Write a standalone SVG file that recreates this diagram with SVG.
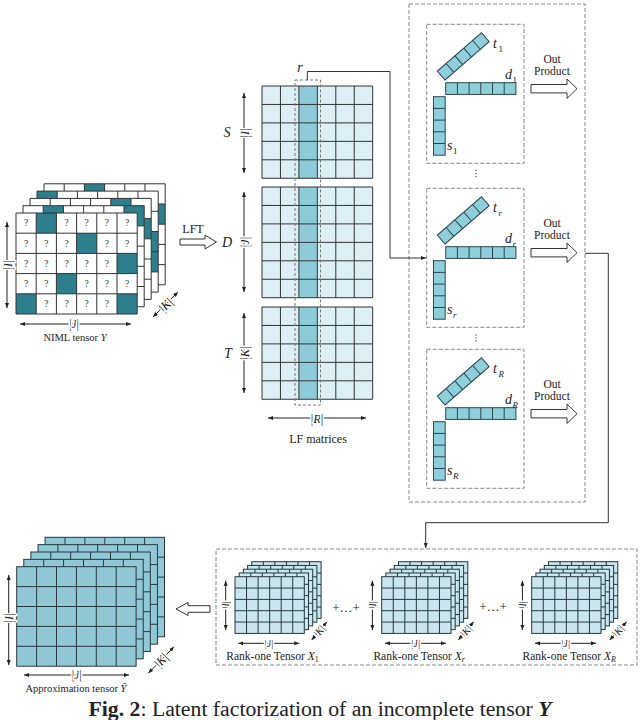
<svg xmlns="http://www.w3.org/2000/svg" xmlns:xlink="http://www.w3.org/1999/xlink" width="640" height="720" viewBox="0 0 640 720">
<style>
text{font-family:"Liberation Serif","Times New Roman",serif;fill:#222}
.it{font-style:italic}
.q{font-size:9.5px;text-anchor:middle;fill:#333}
.dim{font-size:12.5px;text-anchor:middle;stroke:#fff;stroke-width:3px;paint-order:stroke;stroke-linejoin:round}
.dimh{font-size:11.5px;text-anchor:middle;stroke:#fff;stroke-width:3px;paint-order:stroke;stroke-linejoin:round}
.dims{font-size:10.5px;text-anchor:middle;stroke:#fff;stroke-width:3px;paint-order:stroke;stroke-linejoin:round}
.dl{stroke:#222;stroke-width:1;fill:none;marker-start:url(#ah);marker-end:url(#ah)}
.grid{fill:none;stroke:#333;stroke-width:1}
.teal{fill:#2E7F8E}
.vec{fill:#8FCFDC;stroke:#2b4650;stroke-width:1}
.dash{fill:none;stroke:#888;stroke-width:1;stroke-dasharray:4 2}
.hollow{fill:#fff;stroke:#333;stroke-width:1}
.conn{fill:none;stroke:#333;stroke-width:1}
.lfl{fill:#DCEFF5}
.lfd{fill:#8DCBD8}
.appr{fill:#90C9D5;stroke:#26383e;stroke-width:1}
.r1{fill:#C9E6EE;stroke:#26383e;stroke-width:1}
.sub{font-size:9px}
</style>
<defs>
<marker id="ah" viewBox="0 0 10 10" refX="10" refY="5" markerWidth="5" markerHeight="5" orient="auto-start-reverse" markerUnits="userSpaceOnUse"><path d="M0 1L10 5L0 9Z" fill="#222"/></marker>
<path id="niml-grid" class="grid" d="M0 0H121.2V101H0Z M20.2 0V101 M40.4 0V101 M60.6 0V101 M80.8 0V101 M101 0V101 M0 20.2H121.2 M0 40.4H121.2 M0 60.6H121.2 M0 80.8H121.2"/>
<g id="appr-layer" class="appr"><rect width="119.4" height="99.5"/><path d="M19.9 0V99.5 M39.8 0V99.5 M59.7 0V99.5 M79.6 0V99.5 M99.5 0V99.5 M0 19.9H119.4 M0 39.8H119.4 M0 59.7H119.4 M0 79.6H119.4"/></g>
<g id="r1-layer" class="r1"><rect width="69.3" height="56.7"/><path d="M11.55 0V56.7 M23.1 0V56.7 M34.65 0V56.7 M46.2 0V56.7 M57.75 0V56.7 M0 11.34H69.3 M0 22.68H69.3 M0 34.02H69.3 M0 45.36H69.3"/></g>
<g id="r1-stack">
<use href="#r1-layer" x="16.8" y="561.7"/>
<use href="#r1-layer" x="12.6" y="565.45"/>
<use href="#r1-layer" x="8.4" y="569.2"/>
<use href="#r1-layer" x="4.2" y="572.95"/>
<use href="#r1-layer" x="0" y="576.7"/>
</g>
<g id="lf5"><rect class="lfl" width="110.7" height="92.25"/><rect class="lfd" x="36.9" width="18.45" height="92.25"/><path class="grid" d="M0 0H110.7V92.25H0Z M18.45 0V92.25 M36.9 0V92.25 M55.35 0V92.25 M73.8 0V92.25 M92.25 0V92.25 M0 18.45H110.7 M0 36.9H110.7 M0 55.35H110.7 M0 73.8H110.7"/></g>
<g id="lf6"><rect class="lfl" width="110.7" height="110.7"/><rect class="lfd" x="36.9" width="18.45" height="110.7"/><path class="grid" d="M0 0H110.7V110.7H0Z M18.45 0V110.7 M36.9 0V110.7 M55.35 0V110.7 M73.8 0V110.7 M92.25 0V110.7 M0 18.45H110.7 M0 36.9H110.7 M0 55.35H110.7 M0 73.8H110.7 M0 92.25H110.7"/></g>
<g id="vec5v" class="vec"><rect width="11.7" height="58.5"/><path d="M0 11.7H11.7M0 23.4H11.7M0 35.1H11.7M0 46.8H11.7"/></g>
<g id="vec6h" class="vec"><rect width="70.2" height="11.7"/><path d="M11.7 0V11.7M23.4 0V11.7M35.1 0V11.7M46.8 0V11.7M58.5 0V11.7"/></g>
<g id="vec5h" class="vec"><rect width="58.5" height="11.7"/><path d="M11.7 0V11.7M23.4 0V11.7M35.1 0V11.7M46.8 0V11.7"/></g>
<g id="vecset">
<use href="#vec5h" transform="translate(445,55.7) rotate(-41) translate(0,-11.7)"/>
<use href="#vec6h" x="445.7" y="58.4"/>
<use href="#vec5v" x="433.5" y="72.4"/>
<rect class="dash" x="426.7" y="0" width="97.3" height="139"/>
<path class="hollow" d="M531 60.2H567V54.7L577 64.4L567 74.1V68.6H531Z"/>
<text x="552" y="38.5" font-size="11.5" text-anchor="middle">Out</text>
<text x="552" y="51" font-size="11.5" text-anchor="middle">Product</text>
</g>
</defs>

<g id="niml-tensor">
<g transform="translate(44,183.8)"><rect width="121.2" height="101" fill="#fff"/><rect class="teal" x="40.4" y="0" width="20.2" height="20.2"/><rect class="teal" x="101" y="20.2" width="20.2" height="20.2"/><use href="#niml-grid"/></g>
<g transform="translate(37,191.1)"><rect width="121.2" height="101" fill="#fff"/><rect class="teal" x="0" y="0" width="20.2" height="20.2"/><rect class="teal" x="101" y="40.4" width="20.2" height="40.4"/><use href="#niml-grid"/></g>
<g transform="translate(30,198.4)"><rect width="121.2" height="101" fill="#fff"/><rect class="teal" x="80.8" y="0" width="20.2" height="20.2"/><rect class="teal" x="101" y="20.2" width="20.2" height="20.2"/><use href="#niml-grid"/></g>
<g transform="translate(23,205.7)"><rect width="121.2" height="101" fill="#fff"/><rect class="teal" x="20.2" y="0" width="20.2" height="20.2"/><rect class="teal" x="101" y="0" width="20.2" height="20.2"/><use href="#niml-grid"/></g>
<g transform="translate(16,213)"><rect width="121.2" height="101" fill="#fff"/>
<rect class="teal" x="20.2" y="0" width="20.2" height="20.2"/>
<rect class="teal" x="60.6" y="20.2" width="20.2" height="20.2"/>
<rect class="teal" x="101" y="40.4" width="20.2" height="20.2"/>
<rect class="teal" x="40.4" y="60.6" width="20.2" height="20.2"/>
<rect class="teal" x="0" y="80.8" width="20.2" height="20.2"/>
<rect class="teal" x="101" y="80.8" width="20.2" height="20.2"/>
<use href="#niml-grid"/>
<text class="q" x="10.1" y="13.3">?</text><text class="q" x="50.5" y="13.3">?</text><text class="q" x="70.7" y="13.3">?</text><text class="q" x="90.9" y="13.3">?</text><text class="q" x="111.1" y="13.3">?</text>
<text class="q" x="10.1" y="33.5">?</text><text class="q" x="30.3" y="33.5">?</text><text class="q" x="50.5" y="33.5">?</text><text class="q" x="90.9" y="33.5">?</text><text class="q" x="111.1" y="33.5">?</text>
<text class="q" x="10.1" y="53.7">?</text><text class="q" x="30.3" y="53.7">?</text><text class="q" x="50.5" y="53.7">?</text><text class="q" x="70.7" y="53.7">?</text><text class="q" x="90.9" y="53.7">?</text>
<text class="q" x="10.1" y="73.9">?</text><text class="q" x="30.3" y="73.9">?</text><text class="q" x="70.7" y="73.9">?</text><text class="q" x="90.9" y="73.9">?</text><text class="q" x="111.1" y="73.9">?</text>
<text class="q" x="30.3" y="94.1">?</text><text class="q" x="50.5" y="94.1">?</text><text class="q" x="70.7" y="94.1">?</text><text class="q" x="90.9" y="94.1">?</text>
</g>
<path class="dl" d="M7 222V308"/>
<text class="dim" transform="translate(7,265) rotate(-90)" y="4.5">|<tspan class="it">I</tspan>|</text>
<path class="dl" d="M20 324H131"/>
<text class="dimh" x="74" y="327.8">|<tspan class="it">J</tspan>|</text>
<path class="dl" d="M153 317L178 292"/>
<text class="dim" transform="translate(165.5,304.5) rotate(-45)" y="4.5">|<tspan class="it">K</tspan>|</text>
<text x="75" y="341" font-size="10.5" text-anchor="middle">NIML tensor <tspan class="it">Y</tspan></text>
</g>

<g id="lft">
<text x="193" y="233" font-size="12" text-anchor="middle">LFT</text>
<path class="hollow" d="M180 239H205V235L216.5 242L205 249V245H180Z"/>
</g>

<g id="lf-matrices">
<use href="#lf5" x="262" y="86"/>
<use href="#lf6" x="262" y="187"/>
<use href="#lf5" x="262" y="307"/>
<rect x="295" y="80" width="25.5" height="325" fill="none" stroke="#777" stroke-width="1" stroke-dasharray="3 2"/>
<text x="300" y="72" font-size="14" class="it" text-anchor="middle">r</text>
<text x="227" y="137" font-size="14" class="it" text-anchor="middle">S</text>
<text x="227" y="247" font-size="14" class="it" text-anchor="middle">D</text>
<text x="228" y="358" font-size="14" class="it" text-anchor="middle">T</text>
<path class="dl" d="M244 93V173"/>
<text class="dim" transform="translate(244,133) rotate(-90)" y="4.5">|<tspan class="it">I</tspan>|</text>
<path class="dl" d="M244 192V292"/>
<text class="dim" transform="translate(244,242) rotate(-90)" y="4.5">|<tspan class="it">J</tspan>|</text>
<path class="dl" d="M244 313V393"/>
<text class="dim" transform="translate(244,353) rotate(-90)" y="4.5">|<tspan class="it">K</tspan>|</text>
<path class="dl" d="M268 418H366"/>
<text class="dim" x="317" y="422.5">|<tspan class="it">R</tspan>|</text>
<text x="318" y="443" font-size="12" text-anchor="middle">LF matrices</text>
</g>

<g id="factor-panel">
<rect class="dash" x="409" y="4" width="176" height="498"/>
<g fill="#444"><circle cx="476" cy="170.5" r="0.7"/><circle cx="476" cy="173.5" r="0.7"/><circle cx="476" cy="176.5" r="0.7"/><circle cx="476" cy="335" r="0.7"/><circle cx="476" cy="338" r="0.7"/><circle cx="476" cy="341" r="0.7"/></g>
</g>
<g id="factor-1" transform="translate(0,24.3)">
<use href="#vecset"/>
<text x="493" y="24" font-size="14" class="it">t</text><text x="498.5" y="27.5" class="sub">1</text>
<text x="505" y="55" font-size="14" class="it">d</text><text x="512.5" y="58.5" class="sub">1</text>
<text x="447" y="126" font-size="14" class="it">s</text><text x="453" y="129.5" class="sub">1</text>
</g>
<g id="factor-r" transform="translate(0,188.3)">
<use href="#vecset"/>
<text x="493" y="24" font-size="14" class="it">t</text><text x="498.5" y="27.5" class="sub it">r</text>
<text x="505" y="55" font-size="14" class="it">d</text><text x="512.5" y="58.5" class="sub it">r</text>
<text x="447" y="126" font-size="14" class="it">s</text><text x="453" y="129.5" class="sub it">r</text>
</g>
<g id="factor-R" transform="translate(0,349.3)">
<use href="#vecset"/>
<text x="493" y="24" font-size="14" class="it">t</text><text x="498.5" y="27.5" class="sub it">R</text>
<text x="505" y="55" font-size="14" class="it">d</text><text x="512.5" y="58.5" class="sub it">R</text>
<text x="447" y="126" font-size="14" class="it">s</text><text x="453" y="129.5" class="sub it">R</text>
</g>

<g id="rank-one-sum">
<rect class="dash" x="216" y="549" width="421" height="116"/>
<text x="346" y="612" font-size="13" text-anchor="middle">+…+</text>
<text x="493" y="611" font-size="13" text-anchor="middle">+…+</text>
</g>
<g id="rank-one-1" transform="translate(235,0)">
<use href="#r1-stack"/>
<path class="dl" d="M-9.3 580.7V630"/>
<text class="dims" transform="translate(-9.3,605) rotate(-90)" y="3.5">|<tspan class="it">I</tspan>|</text>
<path class="dl" d="M3.3 643.3H64.3"/>
<text class="dims" x="34" y="646.8">|<tspan class="it">J</tspan>|</text>
<path class="dl" d="M76.7 640L92 621.7"/>
<text class="dims" transform="translate(84.3,631) rotate(-50)" y="3.5">|<tspan class="it">K</tspan>|</text>
<text x="37.5" y="660" font-size="11.5" text-anchor="middle">Rank-one Tensor <tspan class="it">X</tspan><tspan font-size="8" dy="2">1</tspan></text>
</g>
<g id="rank-one-r" transform="translate(381.7,0)">
<use href="#r1-stack"/>
<path class="dl" d="M-9.3 580.7V630"/>
<text class="dims" transform="translate(-9.3,605) rotate(-90)" y="3.5">|<tspan class="it">I</tspan>|</text>
<path class="dl" d="M3.3 643.3H64.3"/>
<text class="dims" x="34" y="646.8">|<tspan class="it">J</tspan>|</text>
<path class="dl" d="M76.7 640L92 621.7"/>
<text class="dims" transform="translate(84.3,631) rotate(-50)" y="3.5">|<tspan class="it">K</tspan>|</text>
<text x="37.5" y="660" font-size="11.5" text-anchor="middle">Rank-one Tensor <tspan class="it">X</tspan><tspan font-size="8" dy="2" class="it">r</tspan></text>
</g>
<g id="rank-one-R" transform="translate(531.7,0)">
<use href="#r1-stack"/>
<path class="dl" d="M-9.3 580.7V630"/>
<text class="dims" transform="translate(-9.3,605) rotate(-90)" y="3.5">|<tspan class="it">I</tspan>|</text>
<path class="dl" d="M3.3 643.3H64.3"/>
<text class="dims" x="34" y="646.8">|<tspan class="it">J</tspan>|</text>
<path class="dl" d="M78 640L95 621.7"/>
<text class="dims" transform="translate(86.5,631) rotate(-50)" y="3.5">|<tspan class="it">K</tspan>|</text>
<text x="37.5" y="660" font-size="11.5" text-anchor="middle">Rank-one Tensor <tspan class="it">X</tspan><tspan font-size="8" dy="2" class="it">R</tspan></text>
</g>

<g id="approx-tensor">
<use href="#appr-layer" x="45.1" y="537.3"/>
<use href="#appr-layer" x="38" y="544.65"/>
<use href="#appr-layer" x="30.9" y="552"/>
<use href="#appr-layer" x="23.8" y="559.35"/>
<use href="#appr-layer" x="16.7" y="566.7"/>
<path class="dl" d="M8.7 575V665"/>
<text class="dim" transform="translate(8.7,618) rotate(-90)" y="4.5">|<tspan class="it">I</tspan>|</text>
<path class="dl" d="M24 675H129"/>
<text class="dimh" x="76.7" y="678.8">|<tspan class="it">J</tspan>|</text>
<path class="dl" d="M148.3 673.3L174 646.7"/>
<text class="dim" transform="translate(161,660) rotate(-46)" y="4.5">|<tspan class="it">K</tspan>|</text>
<text x="76" y="692" font-size="10.5" text-anchor="middle">Approximation tensor <tspan class="it">Ŷ</tspan></text>
<path class="hollow" d="M210 605.7H188V602.5L176 609L188 615.5V612.3H210Z"/>
</g>

<g id="connectors">
<path class="conn" d="M307.3 80V71.5H390V258H426" marker-end="url(#ah)"/>
<path class="conn" d="M585 253.3H608.3V522.7H425.7V548" marker-end="url(#ah)"/>
</g>

<text x="320" y="716" font-size="20" text-anchor="middle" textLength="463" lengthAdjust="spacingAndGlyphs"><tspan font-weight="bold">Fig. 2</tspan>: Latent factorization of an incomplete tensor <tspan font-weight="bold" font-style="italic">Y</tspan></text>
</svg>
